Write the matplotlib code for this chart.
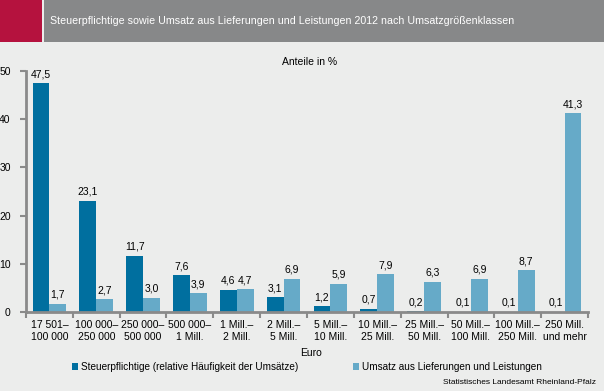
import numpy as np
import matplotlib.pyplot as plt
from matplotlib.patches import Rectangle

categories = ['17 501–\n100 000', '100 000–\n250 000', '250 000–\n500 000', '500 000–\n1 Mill.',
              '1 Mill.–\n2 Mill.', '2 Mill.–\n5 Mill.', '5 Mill.–\n10 Mill.', '10 Mill.–\n25 Mill.',
              '25 Mill.–\n50 Mill.', '50 Mill.–\n100 Mill.', '100 Mill.–\n250 Mill.', '250 Mill.\nund mehr']
steuerpflichtige = [47.5, 23.1, 11.7, 7.6, 4.6, 3.1, 1.2, 0.7, 0.2, 0.1, 0.1, 0.1]
umsatz = [1.7, 2.7, 3.0, 3.9, 4.7, 6.9, 5.9, 7.9, 6.3, 6.9, 8.7, 41.3]
series_names = ['Steuerpflichtige (relative Häufigkeit der Umsätze)',
                'Umsatz aus Lieferungen und Leistungen']

bg = '#ecedec'
dark = '#006f9f'
light = '#66aac8'
axis_gray = '#8a8a8a'
font = 'Liberation Sans'

fig = plt.figure(figsize=(6.04, 3.91), dpi=100, facecolor=bg)

# title bar
fig.patches.append(Rectangle((0, 1 - 42 / 391), 42 / 604, 42 / 391, transform=fig.transFigure,
                             facecolor='#b5123e', edgecolor='none'))
fig.patches.append(Rectangle((44 / 604, 1 - 42 / 391), 560 / 604, 42 / 391, transform=fig.transFigure,
                             facecolor='#878889', edgecolor='none'))
fig.text(50 / 604, 1 - 21 / 391, 'Steuerpflichtige sowie Umsatz aus Lieferungen und Leistungen 2012 nach Umsatzgrößenklassen',
         color='white', fontsize=7.7, va='center', ha='left', family=font)

ax = fig.add_axes([26 / 604, 1 - 312 / 391, 562 / 604, 241 / 391])
ax.set_facecolor(bg)

x = np.arange(len(categories))
w = 0.36
b1 = ax.bar(x - w / 2, steuerpflichtige, w, color=dark, label=series_names[0])
b2 = ax.bar(x + w / 2, umsatz, w, color=light, label=series_names[1])

for bars, vals in ((b1, steuerpflichtige), (b2, umsatz)):
    for r, v in zip(bars, vals):
        ax.text(r.get_x() + r.get_width() / 2, v + 0.8, f'{v:.1f}'.replace('.', ','),
                ha='center', va='bottom', fontsize=7.5, family=font)

ax.set_xlim(-0.5, len(categories) - 0.5)
ax.set_ylim(0, 50)
ax.set_yticks(range(0, 51, 10))
ax.set_xticks(x)
ax.set_xticklabels(categories, fontsize=7.5, family=font, linespacing=1.15)
ax.set_xticks(np.arange(len(categories) + 1) - 0.5, minor=True)
ax.tick_params(axis='x', which='major', length=0, pad=6)
ax.tick_params(axis='x', which='minor', length=4, width=1.5, color=axis_gray, direction='out')
ax.tick_params(axis='y', length=4, width=1.5, color=axis_gray, labelsize=7.5, pad=7)
for lab in ax.get_yticklabels():
    lab.set_family(font)

for s in ('top', 'right'):
    ax.spines[s].set_visible(False)
for s in ('left', 'bottom'):
    ax.spines[s].set_color(axis_gray)
    ax.spines[s].set_linewidth(2)

fig.text(310 / 604, 1 - 62 / 391, 'Anteile in %', ha='center', va='center', fontsize=7.5, family=font)
fig.text(311 / 604, 1 - 353 / 391, 'Euro', ha='center', va='center', fontsize=7.5, family=font)

fig.legend(handles=[b1, b2], loc='center', bbox_to_anchor=(307 / 604, 1 - 367 / 391), ncol=2,
           frameon=False, handlelength=0.6, handleheight=0.6, handletextpad=0.3,
           columnspacing=5.5, prop={'family': font, 'size': 7.2})

fig.text(596 / 604, 1 - 383 / 391, 'Statistisches Landesamt Rheinland-Pfalz', ha='right', va='center',
         fontsize=6, family=font)

fig.savefig('out.png', dpi=100, facecolor=bg)
